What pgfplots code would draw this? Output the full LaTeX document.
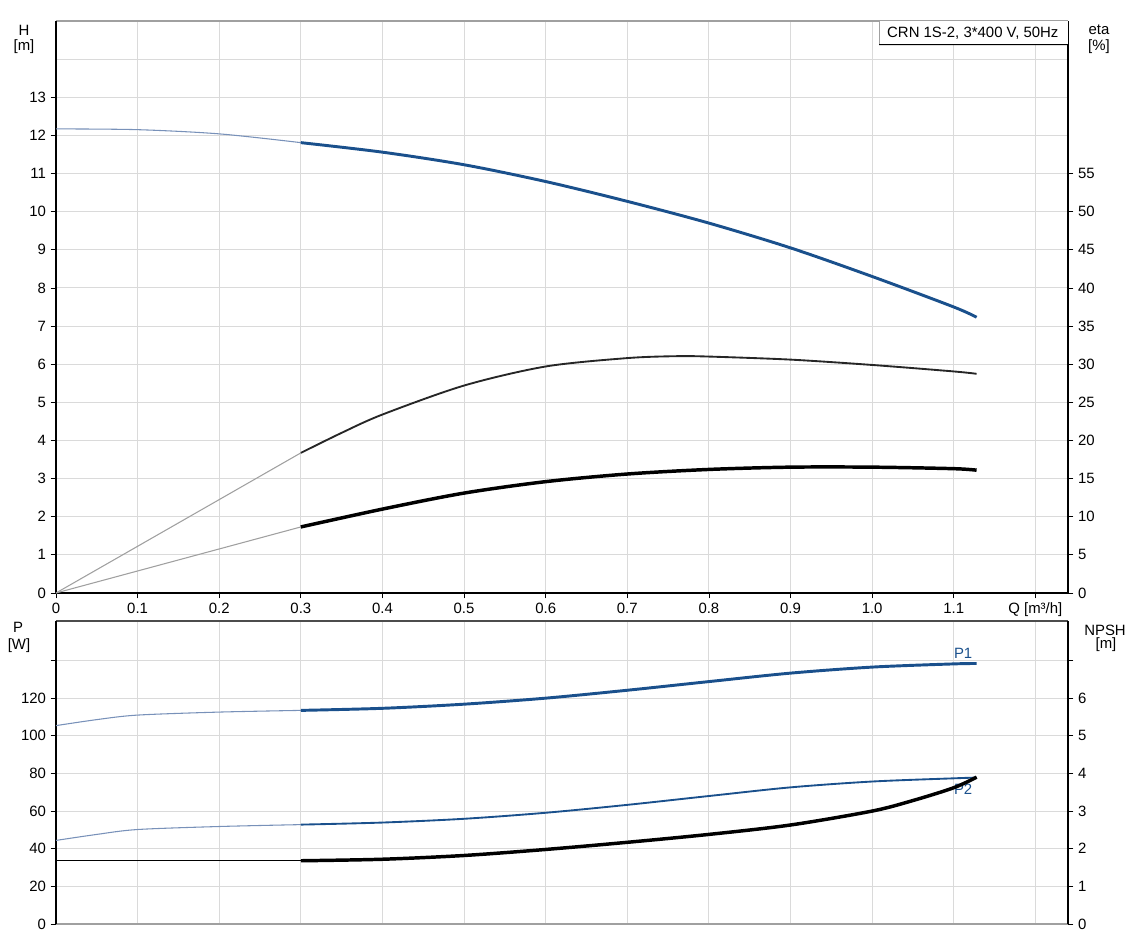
\documentclass[border=0pt]{standalone}
\usepackage{pgfplots}
\pgfplotsset{compat=1.18}
\usepackage{fontspec}
\setmainfont{Liberation Sans}
\definecolor{cblue}{RGB}{26,80,140}
\definecolor{lblue}{RGB}{120,145,185}
\definecolor{gridc}{RGB}{218,218,218}
\definecolor{lgray}{RGB}{160,160,160}
\pgfplotsset{
  base/.style={scale only axis, width=759pt, xmin=0, xmax=1.24,
    tick align=outside, major tick length=4pt,
    tick style={black, line width=0.6pt},
    every tick label/.append style={font=\fontsize{11.2}{13}\selectfont},
    /pgf/number format/assume math mode=true,
    axis line style={draw=none},
    clip=false},
}
\begin{document}
\begin{tikzpicture}[font=\fontsize{11.2}{13}\selectfont]
\useasboundingbox (0,0) rectangle (849.75pt,708.75pt);
% ---------------- top panel: H ----------------
\begin{axis}[base, at={(42pt,264pt)}, anchor=south west, height=429pt,
  ymin=0, ymax=15,
  xtick={0,0.1,0.2,0.3,0.4,0.5,0.6,0.7,0.8,0.9,1.0,1.1,1.2},
  xticklabels={0,0.1,0.2,0.3,0.4,0.5,0.6,0.7,0.8,0.9,1.0,1.1,{Q [m³/h]}},
  xtick pos=bottom, ytick pos=left,
  ytick={0,1,...,13}, yticklabels={0,1,2,3,4,5,6,7,8,9,10,11,12,13},
  extra y ticks={14}, extra y tick labels={}, extra y tick style={major tick length=0pt, grid=major},
  grid=major, grid style={gridc, line width=0.8pt}]
\draw[lgray, line width=0.8pt] (rel axis cs:0,1) -- (rel axis cs:1,1);
\draw[black, line width=1.2pt] (rel axis cs:0,0) -- (rel axis cs:1,0);
\draw[black, line width=1.5pt] (rel axis cs:0,0) -- (rel axis cs:0,1);
\draw[black, line width=1.5pt] (rel axis cs:1,0) -- (rel axis cs:1,1);
\addplot[lblue, line width=0.8pt, smooth] coordinates {(0,12.17)(0.1,12.15)(0.2,12.04)(0.3,11.81)};
\addplot[cblue, line width=2.2pt, smooth] coordinates {(0.3,11.81)(0.4,11.56)(0.5,11.23)(0.6,10.79)(0.7,10.27)(0.8,9.70)(0.9,9.05)(1.0,8.30)(1.1,7.50)(1.128,7.23)};
\filldraw[fill=white, draw=none] (axis cs:1.0086,14.38) rectangle (rel axis cs:1,1);
\draw[lgray, line width=0.8pt] (axis cs:1.0086,14.38) -- (axis cs:1.0086,15);
\draw[black, line width=0.8pt] (axis cs:1.0086,14.38) -- (rel axis cs:1,0.9587);
\node at (axis cs:1.1234,14.69) {CRN 1S-2, 3*400 V, 50Hz};
\end{axis}
% ---------------- top panel: eta ----------------
\begin{axis}[base, at={(42pt,264pt)}, anchor=south west, height=429pt,
  ymin=0, ymax=75, xtick=\empty, ytick pos=right,
  ytick={0,5,...,55}]
\addplot[lgray, line width=0.8pt] coordinates {(0,0)(0.3,18.37)};
\addplot[black!85, line width=1.4pt, smooth] coordinates {(0.3,18.37)(0.35,21.0)(0.4,23.4)(0.5,27.2)(0.6,29.7)(0.7,30.8)(0.76,31.05)(0.8,31.0)(0.9,30.6)(1.0,29.9)(1.1,29.05)(1.128,28.74)};
\addplot[lgray, line width=0.8pt] coordinates {(0,0)(0.3,8.66)};
\addplot[black, line width=2.6pt, smooth] coordinates {(0.3,8.66)(0.4,11.0)(0.5,13.1)(0.6,14.6)(0.7,15.6)(0.8,16.2)(0.9,16.5)(1.0,16.5)(1.1,16.3)(1.128,16.1)};
\end{axis}
% ---------------- bottom panel: P ----------------
\begin{axis}[base, at={(42pt,15.75pt)}, anchor=south west, height=227.25pt,
  ymin=0, ymax=161,
  xtick={0.1,0.2,0.3,0.4,0.5,0.6,0.7,0.8,0.9,1.0,1.1,1.2}, xticklabels={},
  xtick style={draw=none}, ytick pos=left,
  ytick={0,20,...,140}, yticklabels={0,20,40,60,80,100,120,{}},
  grid=major, grid style={gridc, line width=0.8pt}]
\draw[black!70, line width=0.8pt] (rel axis cs:0,1) -- (rel axis cs:1,1);
\draw[lgray, line width=1.5pt] (rel axis cs:0,0) -- (rel axis cs:1,0);
\draw[black, line width=1.5pt] (rel axis cs:0,0) -- (rel axis cs:0,1);
\draw[black, line width=1.5pt] (rel axis cs:1,0) -- (rel axis cs:1,1);
\addplot[lblue, line width=0.8pt, smooth] coordinates {(0,105.4)(0.05,108.6)(0.1,111)(0.2,112.6)(0.3,113.5)};
\addplot[cblue, line width=2.2pt, smooth] coordinates {(0.3,113.5)(0.4,114.6)(0.5,116.8)(0.6,120)(0.7,124.2)(0.8,128.8)(0.9,133.3)(1.0,136.5)(1.1,138.2)(1.128,138.4)};
\addplot[lblue, line width=0.8pt, smooth] coordinates {(0,44.4)(0.05,47.6)(0.1,50.2)(0.2,51.8)(0.3,52.8)};
\addplot[cblue, line width=1.4pt, smooth] coordinates {(0.3,52.8)(0.4,53.9)(0.5,55.9)(0.6,59.1)(0.7,63.3)(0.8,68.0)(0.9,72.6)(1.0,75.7)(1.1,77.4)(1.128,77.8)};
\node[text=cblue] at (axis cs:1.1115,144) {P1};
\node[text=cblue] at (axis cs:1.1115,71.6) {P2};
\end{axis}
% ---------------- bottom panel: NPSH ----------------
\begin{axis}[base, at={(42pt,15.75pt)}, anchor=south west, height=227.25pt,
  ymin=0, ymax=8.05, xtick=\empty, ytick pos=right,
  ytick={0,1,...,7}, yticklabels={0,1,2,3,4,5,6,{}}]
\addplot[black, line width=0.8pt] coordinates {(0,1.68)(0.3,1.68)};
\addplot[black, line width=2.6pt, smooth] coordinates {(0.3,1.68)(0.4,1.72)(0.5,1.82)(0.6,1.98)(0.7,2.17)(0.8,2.38)(0.9,2.63)(1.0,3.0)(1.05,3.28)(1.1,3.62)(1.128,3.9)};
\end{axis}
% ---------------- axis titles ----------------
\node at (18pt,686.25pt) {H};
\node at (18pt,673.5pt) {[m]};
\node at (824.25pt,686.25pt) {eta};
\node at (824.25pt,673.5pt) {[\%]};
\node at (13.5pt,238.5pt) {P};
\node at (14.25pt,224.25pt) {[W]};
\node at (828.75pt,236.25pt) {NPSH};
\node at (829.5pt,225pt) {[m]};
\end{tikzpicture}
\end{document}
